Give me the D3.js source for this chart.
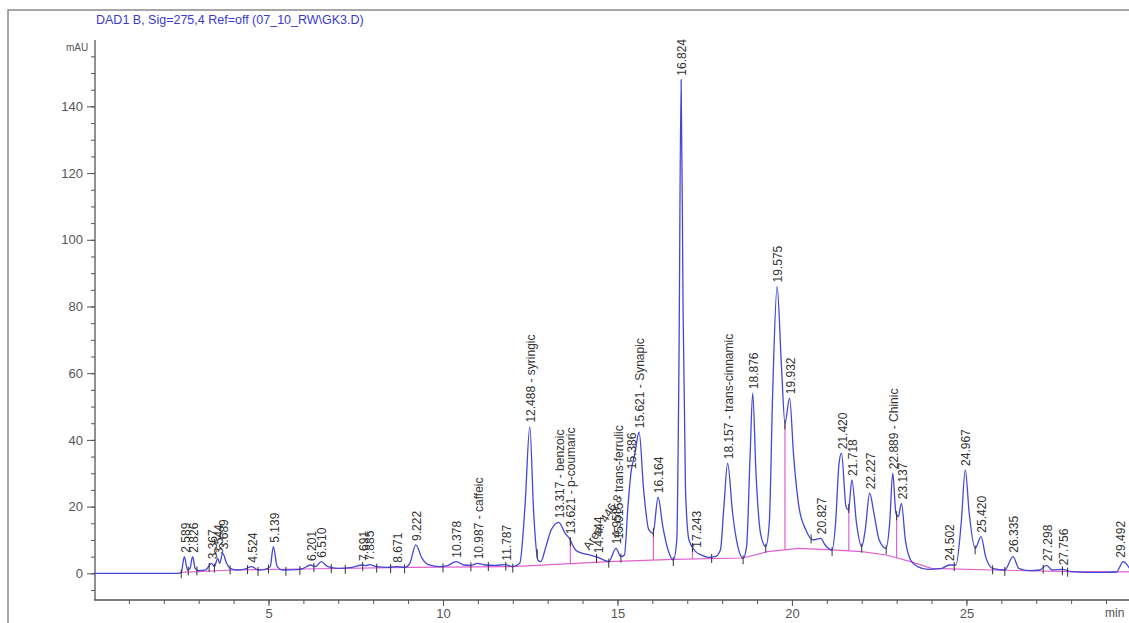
<!DOCTYPE html>
<html><head><meta charset="utf-8">
<script src="https://cdn.jsdelivr.net/npm/d3@7"></script>
<style>
html,body{margin:0;padding:0;background:#fff;}
svg{display:block;font-family:"Liberation Sans",Arial,sans-serif;}
</style></head>
<body>
<svg id="chart" width="1129" height="623"></svg>
<script>
// ---------- DATA ----------
const title = "DAD1 B, Sig=275,4 Ref=off (07_10_RW\\GK3.D)";
const yTicksMajor = [0, 20, 40, 60, 80, 100, 120, 140];
const xTicksMajor = [5, 10, 15, 20, 25];
// chromatogram trace: [time (min), mAU]
const trace = [
 [0,0],[2.4,0],[2.5,0.3],[2.589,5],[2.68,1],[2.75,1.5],[2.826,5],[2.9,1.5],[3.0,0.8],[3.2,1],
 [3.367,3],[3.45,2],[3.544,4.5],[3.6,3],[3.689,6],[3.8,3],[3.9,1.5],[4.1,1],[4.3,1.2],[4.524,2],
 [4.7,1],[4.9,1.2],[5.05,2],[5.139,8],[5.25,2],[5.4,1],[5.8,1.1],[6.0,1.5],[6.201,2.5],[6.35,2],
 [6.51,3.5],[6.7,2],[7.0,1.5],[7.4,1.8],[7.691,2.5],[7.8,2.3],[7.885,2.6],[8.1,2],[8.4,1.8],[8.671,2],
 [8.9,1.8],[9.05,3],[9.222,8.5],[9.4,4.5],[9.6,2.5],[9.9,2],[10.1,2.2],[10.378,3.5],[10.6,2.5],[10.8,2.4],
 [10.987,3],[11.2,2.5],[11.5,2.4],[11.787,2.6],[12.0,2],[12.2,3],[12.35,20],[12.488,44],[12.6,18],[12.72,4],
 [12.8,3.5],[12.95,8],[13.1,13],[13.317,15.3],[13.5,12],[13.621,10.5],[13.8,7],[14.0,6],[14.2,5.5],[14.444,4.8],
 [14.6,4],[14.75,3.5],[14.958,7.5],[15.1,5],[15.2,5.5],[15.3,20],[15.386,30],[15.5,36],[15.621,42.3],[15.75,25],
 [15.9,13],[16.02,12],[16.164,22.8],[16.3,14],[16.45,7],[16.6,4],[16.7,10],[16.76,60],[16.824,148],[16.88,80],
 [16.95,25],[17.05,10],[17.243,6.5],[17.4,5.5],[17.6,4.8],[17.8,5],[17.95,7],[18.05,20],[18.157,33],[18.3,18],
 [18.45,8],[18.6,4.5],[18.7,8],[18.8,35],[18.876,54],[18.97,30],[19.1,12],[19.25,8],[19.35,15],[19.45,55],
 [19.575,86],[19.7,62],[19.8,45],[19.932,52.5],[20.05,35],[20.2,20],[20.4,13],[20.6,10],[20.827,10.5],[20.95,8.5],
 [21.15,7],[21.25,15],[21.35,33],[21.42,36],[21.55,20],[21.62,19],[21.718,28],[21.85,15],[22.0,8],[22.1,13],
 [22.227,24],[22.35,18],[22.5,10],[22.7,7.5],[22.8,15],[22.889,30],[22.98,18],[23.05,17],[23.137,21],[23.25,10],
 [23.4,4],[23.6,2],[23.9,1.2],[24.3,1.5],[24.502,2.5],[24.7,2.5],[24.85,15],[24.967,31],[25.08,18],[25.25,7.5],
 [25.42,11],[25.55,5],[25.75,1.5],[26.1,1],[26.335,5],[26.5,1.5],[26.8,0.8],[27.1,1],[27.298,2.4],[27.45,1],
 [27.756,1.2],[28.0,0.5],[28.5,0.3],[29.0,0.3],[29.3,0.4],[29.492,3.5],[29.7,1]
];
// integration baseline (magenta)
const baseline = [
 [2.5,0.3],[4.0,1],[6.0,1.3],[9.0,1.8],[12.0,2],[14.75,3.5],[16.6,4.2],[18.6,4.6],[19.3,6.5],[20.2,7.5],
 [21.15,7],[22.0,6.5],[22.7,5.5],[23.4,3.5],[24.0,1.5],[25.75,1],[28.0,0.5],[29.7,0.4]
];
const dropTimes = [13.65, 14.4, 16.03, 17.15, 17.7, 19.8, 21.63, 23.0];
const markTimes = [2.5,2.7,2.95,3.3,3.45,3.9,4.4,4.7,5.0,5.5,5.9,6.3,6.8,7.2,7.7,8.1,8.5,8.9,10.0,10.8,11.3,11.8,12.0,
 12.7,13.65,14.4,14.75,15.1,16.03,16.6,17.15,17.7,18.6,19.25,19.8,20.55,21.15,21.63,22.0,22.7,23.0,24.65,25.25,25.75,
 26.1,27.2,27.75,27.9];
const peakTimes = [2.589,2.826,3.367,3.544,3.689,4.524,5.139,6.201,6.510,7.691,7.885,8.671,9.222,10.378,10.987,11.787,
 12.488,13.317,13.621,14.444,14.958,15.386,15.621,16.164,16.824,17.243,18.157,18.876,19.575,19.932,20.827,21.420,
 21.718,22.227,22.889,23.137,24.502,24.967,25.420,26.335,27.298,27.756,29.492];
const peakLabels = ["2.589","2.826","3.367","3.544","3.689","4.524","5.139","6.201","6.510","7.691","7.885","8.671","9.222",
 "10.378","10.987 - caffeic","11.787","12.488 - syringic","13.317 - benzoic","13.621 - p-coumaric","14.444","14.958",
 "15.386","15.621 - Synapic","16.164","16.824","17.243","18.157 - trans-cinnamic","18.876","19.575","19.932","20.827",
 "21.420","21.718","22.227","22.889 - Chinic","23.137","24.502","24.967","25.420","26.335","27.298","27.756","29.492"];
const peakHeights = [5,5,3,4.5,6,2,8,2.5,3.5,2.5,2.6,2,8.5,3.5,3,2.6,44,15.3,10.5,4.8,7.5,30,42.3,22.8,148,6.5,33,54,86,
 52.5,10.5,36,28,24,30,21,2.5,31,11,5,2.4,1.2,3.5];

// ---------- DRAW ----------
const svg = d3.select("#chart");
const x = d3.scaleLinear().domain([0, 29.63]).range([94, 1128]);
const y = d3.scaleLinear().domain([-8, 159.9]).range([600, 40]);

// frame
svg.append("path").attr("d","M8,623 V10 H1129").attr("fill","none").attr("stroke","#8a8a8a").attr("stroke-width",1.5);

// title
svg.append("text").attr("x",96).attr("y",24).attr("fill","#3a3ad0").attr("font-size",12.5).text(title);

// y axis
const yAxisG = svg.append("g").attr("transform","translate(95,0)");
yAxisG.call(d3.axisLeft(y).tickValues(d3.range(-5,156,5)).tickSize(4).tickFormat(""));
yAxisG.call(g=>g.select(".domain").remove());
const yMajor = svg.append("g").attr("transform","translate(95,0)").call(d3.axisLeft(y).tickValues(yTicksMajor).tickSize(8).tickPadding(4));
yMajor.select(".domain").remove();
yMajor.selectAll("text").attr("font-size",13).attr("fill","#555").attr("font-family","Liberation Sans, Arial");
svg.selectAll(".tick line").attr("stroke","#555");
svg.append("line").attr("x1",95).attr("x2",95).attr("y1",40).attr("y2",600).attr("stroke","#555").attr("stroke-width",1.3);
svg.append("text").attr("x",66).attr("y",51).attr("font-size",10).attr("fill","#555").text("mAU");

// x axis
const xMinor = svg.append("g").attr("transform","translate(0,600)").call(d3.axisBottom(x).tickValues(d3.range(1,30,1)).tickSize(4).tickFormat(""));
xMinor.select(".domain").remove();
const xMajor = svg.append("g").attr("transform","translate(0,600)").call(d3.axisBottom(x).tickValues(xTicksMajor).tickSize(6).tickPadding(3));
xMajor.select(".domain").remove();
xMajor.selectAll("text").attr("font-size",13).attr("fill","#555").attr("font-family","Liberation Sans, Arial");
svg.selectAll(".tick line").attr("stroke","#555");
svg.append("line").attr("x1",94).attr("x2",1129).attr("y1",600).attr("y2",600).attr("stroke","#555").attr("stroke-width",1.3);
svg.append("text").attr("x",1105).attr("y",617).attr("font-size",12).attr("fill","#555").text("min");

// baseline
const line = d3.line().x(d=>x(d[0])).y(d=>y(d[1]));
svg.append("path").datum(baseline).attr("d",line).attr("fill","none").attr("stroke","#e060d0").attr("stroke-width",1.2);

// value lookup on the read data (for drop lines / marks)
const bis = d3.bisector(d=>d[0]).left;
function valAt(arr,t){const i=Math.max(1,Math.min(arr.length-1,bis(arr,t)));const a=arr[i-1],b=arr[i];return a[1]+(b[1]-a[1])*(t-a[0])/(b[0]-a[0]);}
svg.append("g").selectAll("line").data(dropTimes).join("line")
 .attr("x1",d=>x(d)).attr("x2",d=>x(d)).attr("y1",d=>y(valAt(baseline,d))).attr("y2",d=>y(valAt(trace,d)))
 .attr("stroke","#e060d0").attr("stroke-width",1.2);

// trace
const traceLine = d3.line().x(d=>x(d[0])).y(d=>y(d[1])).curve(d3.curveMonotoneX);
svg.append("path").datum(trace).attr("d",traceLine).attr("fill","none").attr("stroke","#4646d8").attr("stroke-width",1.3);

// integration marks
svg.append("g").selectAll("line").data(markTimes).join("line")
 .attr("x1",d=>x(d)).attr("x2",d=>x(d)).attr("y1",d=>y(valAt(trace,d))-3).attr("y2",d=>y(valAt(trace,d))+6)
 .attr("stroke","#333").attr("stroke-width",1);

// peak labels
svg.append("g").selectAll("text").data(peakTimes).join("text")
 .attr("transform",(d,i)=>`translate(${Math.min(x(d)+1,1121)},${y(peakHeights[i])-4}) rotate(-90)`)
 .attr("dy","0.35em").attr("font-size",12).attr("fill","#333").attr("text-anchor","start")
 .text((d,i)=>peakLabels[i]);

// area annotation
svg.append("text").attr("transform",`translate(${x(14.2)},${y(5)-6}) rotate(-58)`)
 .attr("font-size",12).attr("fill","#333").text("Area: 446.8");
svg.append("text").attr("transform",`translate(${x(15.0)+1},${y(9)-4}) rotate(-90)`).attr("dy","0.35em")
 .attr("font-size",12).attr("fill","#333").text("15.015 - trans-ferrulic");
</script>
</body></html>
